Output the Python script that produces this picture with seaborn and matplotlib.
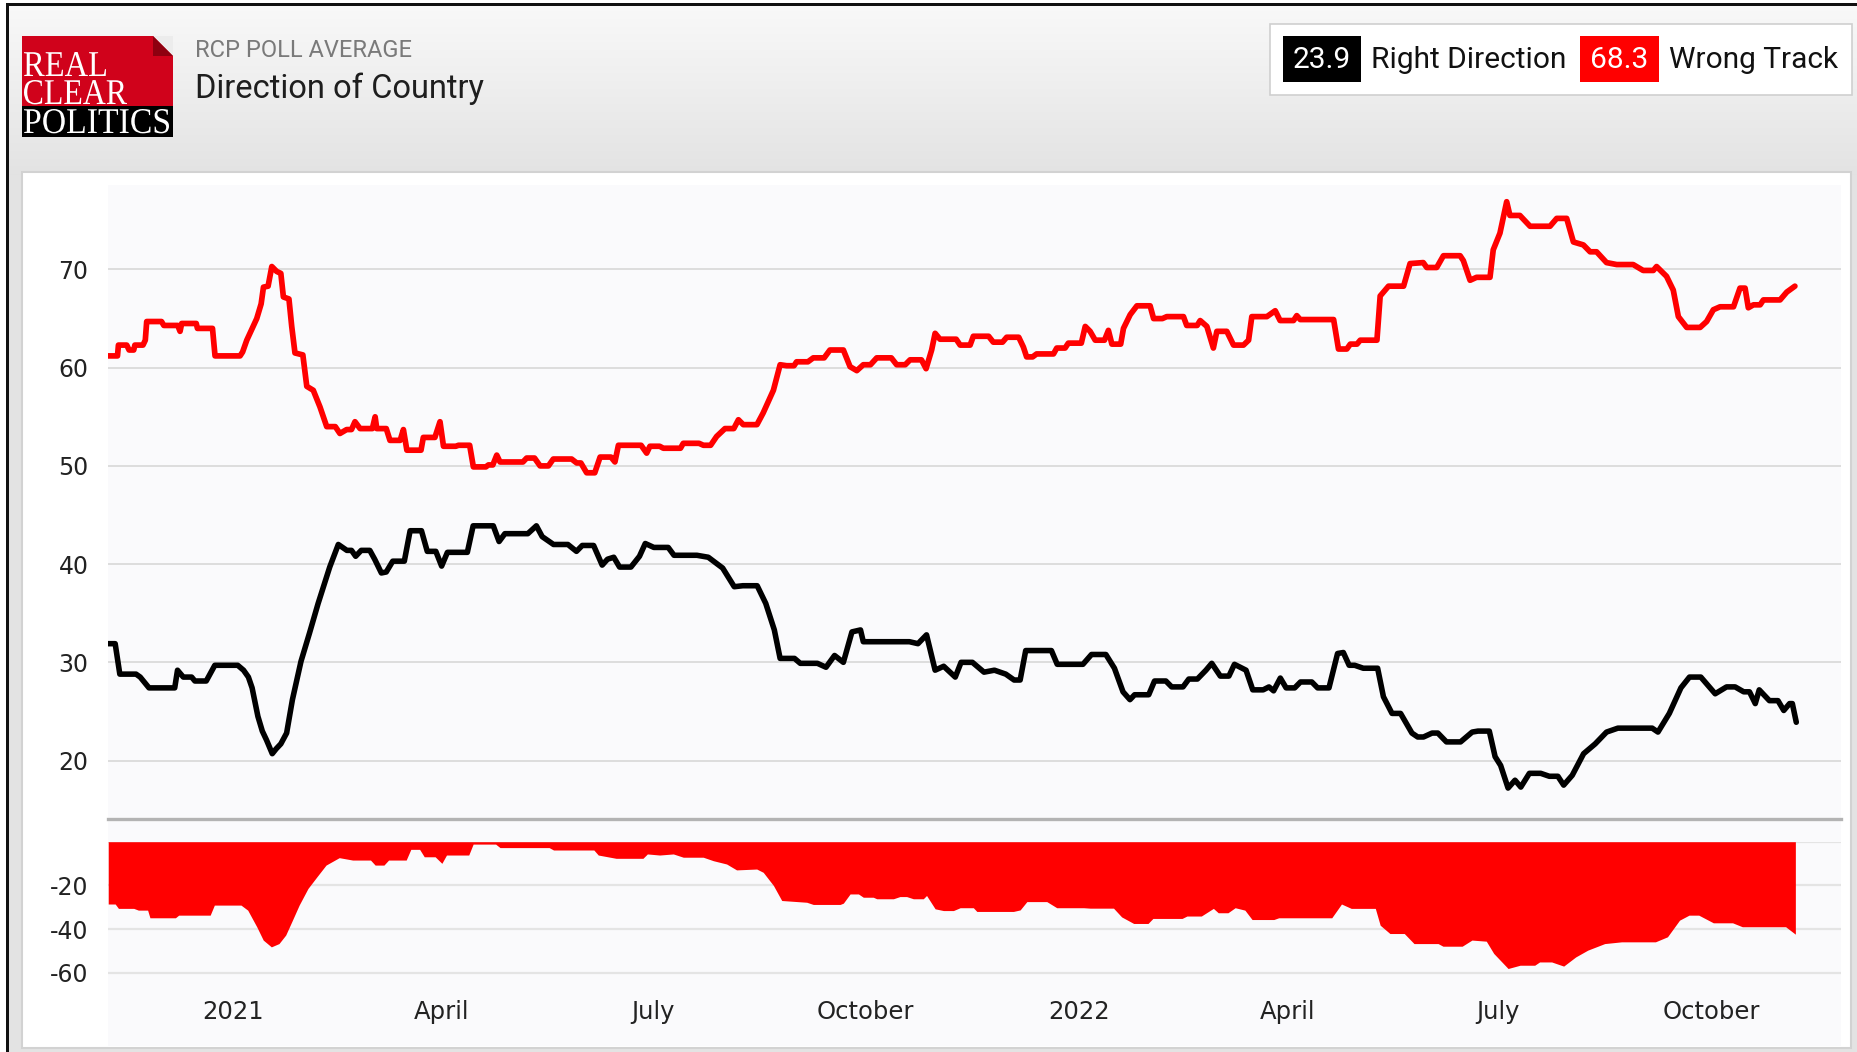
import numpy as np
import pandas as pd
import matplotlib
matplotlib.use("Agg")
import matplotlib.pyplot as plt
from matplotlib.patches import Rectangle, Polygon, PathPatch
from matplotlib.textpath import TextPath
from matplotlib.font_manager import FontProperties
from matplotlib.transforms import Affine2D
import seaborn as sns

# ---------------- data (day offsets from 2021-01-01, value) ----------------
BASE_DATE = "2021-01-01"

WRONG_TRACK = [(-54,61.2),(-50,61.2),(-49.6,62.3),(-46,62.3),(-45,61.8),(-43,61.8),(-42.5,62.3),(-39,62.3),(-38,62.8),(-37.4,64.7),(-31,64.7),(-30,64.3),(-24,64.3),(-23,63.7),(-22.3,64.5),(-16,64.5),(-15.5,64.0),(-9,64.0),(-7.9,61.2),(2.9,61.2),(4,61.6),(5.8,62.8),(10.1,65.0),(12,66.5),(13,68.2),(15,68.3),(16.6,70.3),(18.7,69.8),(20.5,69.6),(21.6,67.2),(24,67.0),(25.2,64.2),(26.6,61.5),(30,61.3),(31.7,58.1),(34.5,57.7),(37.4,56.0),(40.3,54.0),(44,54.0),(46,53.3),(48.9,53.7),(51,53.7),(52.5,54.5),(54.7,53.8),(60,53.8),(61.2,55.0),(61.9,53.8),(66,53.8),(67.6,52.6),(72,52.6),(73.4,53.7),(74.9,51.6),(81,51.6),(82,52.9),(87,52.9),(89.2,54.5),(90.7,52.0),(96,52.0),(97.2,52.1),(102,52.1),(103.6,49.9),(109,49.9),(110.1,50.1),(112,50.1),(113.7,51.1),(115.1,50.4),(125,50.4),(126.6,50.8),(130,50.8),(132.4,50.0),(136,50.0),(138.1,50.7),(146,50.7),(148.2,50.3),(150,50.3),(152.5,49.3),(156,49.3),(158.3,50.9),(163,50.9),(164.7,50.4),(166.2,52.1),(176,52.1),(178.4,51.3),(179.8,52.0),(184,52.0),(185.6,51.8),(193,51.8),(194.2,52.3),(201,52.3),(202.9,52.1),(206,52.1),(208.6,53.0),(212.2,53.8),(216,53.8),(218,54.7),(220.1,54.2),(226,54.2),(228.7,55.4),(233.1,57.7),(236,60.3),(238.8,60.2),(242,60.2),(243.1,60.6),(248,60.6),(250.3,61.0),(255,61.0),(257.5,61.8),(263.3,61.8),(266.2,60.1),(269.1,59.7),(271.9,60.3),(275,60.3),(277.7,61.0),(284,61.0),(286.3,60.3),(290,60.3),(292.1,60.8),(297,60.8),(299,59.9),(301.4,61.8),(302.9,63.5),(305,62.9),(312,62.9),(313.7,62.3),(318,62.3),(319.4,63.2),(326,63.2),(328,62.6),(332,62.6),(333.8,63.1),(339,63.1),(341,62.1),(342.4,61.1),(345,61.1),(346.7,61.4),(354,61.4),(355.4,62.0),(359,62.0),(360.4,62.5),(366,62.5),(367.7,64.2),(369.8,63.7),(372,62.8),(376,62.8),(377.7,63.8),(379.2,62.4),(383,62.4),(384.2,64.0),(387.1,65.4),(390,66.3),(395.7,66.3),(397.2,65.0),(401,65.0),(402.9,65.2),(410.1,65.2),(411.5,64.3),(416,64.3),(417.3,64.8),(420.2,64.2),(423,62.0),(424.5,63.7),(428.8,63.7),(431.7,62.3),(436,62.3),(438.2,62.8),(439.6,65.2),(446.1,65.2),(449.7,65.8),(451.8,64.8),(457.6,64.8),(459,65.3),(460.5,64.9),(474.9,64.9),(477,61.9),(480.6,61.9),(482.1,62.4),(485,62.4),(486.4,62.8),(493.6,62.8),(495,67.3),(498.6,68.3),(505.1,68.3),(507.9,70.6),(513.6,70.7),(515.1,70.2),(519.4,70.2),(522.3,71.4),(529.5,71.4),(530.9,70.9),(533.8,68.9),(536.6,69.2),(542.4,69.2),(543.8,72.0),(546.7,73.7),(549.6,76.9),(551,75.5),(555.3,75.5),(559.7,74.4),(568.3,74.4),(571.2,75.2),(575.5,75.2),(578.4,72.8),(582.7,72.5),(585.6,71.8),(588.4,71.8),(592.7,70.7),(597.1,70.5),(604.2,70.5),(608.5,69.9),(612.9,69.9),(614.3,70.3),(618.6,69.3),(621.5,67.9),(623.7,65.2),(627.3,64.1),(633.1,64.1),(635.9,64.7),(638.8,65.9),(641.7,66.2),(647.5,66.2),(650.3,68.1),(652.5,68.1),(653.9,66.1),(656.1,66.4),(659,66.4),(660.4,66.9),(667.6,66.9),(670.5,67.7),(674,68.3)]

RIGHT_DIRECTION = [(-54,31.9),(-51,31.9),(-49,28.8),(-42,28.8),(-40.2,28.5),(-36.4,27.4),(-25.3,27.4),(-24.1,29.2),(-21.6,28.5),(-18,28.5),(-16.6,28.1),(-11.7,28.1),(-8,29.7),(1.9,29.7),(4.4,29.2),(6.5,28.5),(8.1,27.4),(10.6,24.5),(12.5,23.0),(14.3,22.1),(16.8,20.7),(18.5,21.2),(20.5,21.7),(23,22.8),(25.5,26.2),(29.2,30.1),(32.9,33.0),(36.6,36.0),(41.6,39.7),(45.3,42.0),(49,41.4),(51,41.4),(52.8,40.8),(55.2,41.4),(58.9,41.4),(61,40.5),(63.9,39.1),(66,39.2),(68.8,40.3),(73.8,40.3),(76.3,43.4),(81.2,43.4),(83.7,41.3),(87.4,41.3),(89.9,39.8),(92.4,41.2),(101,41.2),(103.5,43.9),(112.2,43.9),(114.7,42.3),(117.2,43.1),(127.1,43.1),(130.8,43.9),(133.3,42.8),(138.2,42.0),(144.4,42.0),(148.1,41.3),(150.6,41.9),(155.5,41.9),(159.2,39.9),(161.5,40.5),(164.2,40.7),(166.7,39.7),(171.6,39.7),(175.3,40.8),(177.8,42.1),(181.5,41.7),(187.7,41.7),(190.2,40.9),(200.1,40.9),(205,40.7),(211.2,39.6),(216.2,37.7),(219.9,37.8),(226.1,37.8),(229.8,36.0),(233.5,33.3),(236,30.4),(242.2,30.4),(244.7,29.9),(252.1,29.9),(255.8,29.5),(259.5,30.7),(263.3,30.0),(267,33.1),(270.7,33.3),(271.9,32.1),(291.8,32.1),(295.5,31.9),(299.2,32.8),(302.9,29.2),(306.6,29.6),(311.6,28.5),(314.1,30.0),(319,30.0),(324,29.0),(328.5,29.2),(331,29.0),(333.4,28.8),(337,28.2),(339.6,28.2),(342,31.2),(353.1,31.2),(355.6,29.8),(366.7,29.8),(370.4,30.8),(376.6,30.8),(380.3,29.4),(384,27.0),(387,26.2),(389,26.7),(395.1,26.7),(397.6,28.1),(402.5,28.1),(405,27.5),(409.9,27.5),(412.4,28.3),(416.1,28.3),(419.8,29.2),(422.3,29.9),(426,28.6),(429.7,28.6),(432.1,29.8),(437.1,29.2),(440,27.2),(444.5,27.2),(447,27.5),(449,27.1),(451.9,28.4),(454.4,27.4),(458.1,27.4),(460.6,28.0),(465.5,28.0),(468,27.4),(472.9,27.4),(476.6,30.9),(479.1,31.0),(481.6,29.7),(484,29.7),(487.7,29.4),(493.9,29.4),(496.4,26.5),(500.1,24.8),(503.8,24.8),(508.7,22.8),(511.2,22.4),(513.7,22.4),(517.4,22.8),(519.9,22.8),(523.6,21.9),(529.7,21.9),(534.7,22.9),(537.2,23.0),(542.1,23.0),(544.6,20.4),(547,19.5),(550.2,17.2),(553.2,18.0),(555.7,17.3),(559.4,18.7),(564.3,18.7),(568,18.4),(571.7,18.4),(574.2,17.5),(577.9,18.5),(582.8,20.7),(587.8,21.7),(592.7,22.9),(597.6,23.3),(612.4,23.3),(614.9,22.9),(619.8,24.8),(624.8,27.4),(628.5,28.5),(633.4,28.5),(639.6,26.8),(644.5,27.5),(648.2,27.5),(651.9,27.0),(654.4,27.0),(656.9,25.8),(658.6,27.2),(663,26.1),(666.7,26.1),(669.2,25.1),(671.7,25.8),(672.9,25.8),(674.6,23.9)]

SPREAD = [(-54,-28.5),(-51,-28.5),(-49.6,-30.5),(-43,-30.5),(-41,-31.3),(-37,-31.3),(-36,-34.8),(-25,-34.8),(-23.6,-33.6),(-10,-33.6),(-8.2,-29.0),(3.3,-29.0),(6.2,-31.3),(10.1,-38.9),(12.9,-45.0),(16.4,-48.1),(19.7,-46.6),(22.6,-42.7),(25.5,-35.9),(28.4,-29.0),(32.2,-21.4),(36.1,-16.0),(40,-10.7),(45.7,-7.3),(51.5,-8.4),(59.2,-8.4),(61.2,-10.7),(65,-10.7),(67,-8.4),(74.6,-8.4),(76.6,-3.5),(80.4,-3.5),(82.4,-6.9),(87.1,-6.9),(90,-9.9),(92,-6.1),(101.6,-6.1),(103.5,-1.1),(113.2,-1.1),(115.1,-2.7),(136.3,-2.7),(138.2,-3.8),(155.6,-3.8),(157.5,-6.1),(165.2,-7.6),(176.8,-7.6),(178.7,-5.6),(184,-6.1),(189.9,-5.6),(194.2,-7.1),(202.8,-7.1),(207.2,-8.7),(212.9,-10.2),(217.2,-12.9),(225.9,-12.5),(228.7,-14.0),(233.1,-20.0),(236.7,-26.9),(247.5,-27.7),(250.3,-28.7),(261.9,-28.7),(263.3,-28.1),(266.2,-23.9),(269.8,-23.9),(271.9,-25.4),(276.2,-25.4),(277.7,-26.1),(284.9,-26.1),(287.7,-25.1),(290.6,-25.1),(293.5,-26.1),(297.8,-26.1),(299.2,-24.6),(302.9,-30.7),(306.5,-31.5),(310.8,-31.5),(313.7,-30.2),(319.4,-30.2),(320.9,-31.9),(336.7,-31.9),(339.6,-31.2),(342.5,-27.4),(351.1,-27.4),(355.4,-30.2),(367,-30.2),(369.8,-30.4),(379.9,-30.4),(383.4,-34.4),(388.6,-37.4),(394.8,-37.4),(396.9,-35.1),(409.5,-35.1),(411.6,-34.0),(417.8,-34.0),(423,-30.5),(425.1,-32.5),(429.3,-32.5),(432.4,-30.2),(436.6,-31.3),(439.7,-35.6),(449.1,-35.6),(451.2,-34.8),(474.1,-34.8),(478.3,-28.5),(482.5,-30.5),(492.9,-30.5),(495,-38.2),(499.2,-42.0),(505.4,-42.0),(509.6,-46.6),(520,-46.6),(522.1,-47.8),(530.4,-47.8),(534.6,-45.0),(540.8,-45.5),(544,-51.1),(550.2,-58.0),(555.4,-56.5),(561.7,-56.5),(563.8,-55.0),(569,-55.0),(574.2,-56.9),(579.4,-52.7),(584.6,-49.6),(591.9,-46.6),(599.2,-45.8),(613.8,-45.8),(619,-43.5),(624.2,-35.9),(628.3,-33.6),(632.5,-33.6),(638.8,-37.1),(647.1,-37.1),(651.3,-38.9),(670,-38.9),(674.2,-42.3)]

LATEST_RIGHT = "23.9"
LATEST_WRONG = "68.3"
TICK_DATES = ["2021-01-01", "2021-04-01", "2021-07-01", "2021-10-01",
              "2022-01-01", "2022-04-01", "2022-07-01", "2022-10-01"]
TICK_LABELS = ["2021", "April", "July", "October", "2022", "April", "July", "October"]
UPPER_TICKS = [20, 30, 40, 50, 60, 70]
LOWER_TICKS = [-60, -40, -20]


def to_frame(pairs):
    d = np.array([p[0] for p in pairs], dtype=float)
    v = np.array([p[1] for p in pairs], dtype=float)
    dates = pd.Timestamp(BASE_DATE) + pd.to_timedelta(d, unit="D")
    return pd.DataFrame({"date": dates, "value": v})


wt = to_frame(WRONG_TRACK)
rd = to_frame(RIGHT_DIRECTION)
sp = to_frame(SPREAD)

# ---------------- figure ----------------
sns.set_theme(style="white")
plt.rcParams["font.family"] = ["DejaVu Sans"]

W, H = 1857, 1052
fig = plt.figure(figsize=(W / 100, H / 100), dpi=100)
fig.patch.set_facecolor("white")

bg = fig.add_axes([0, 0, 1, 1], zorder=-10)
bg.set_xlim(0, W)
bg.set_ylim(H, 0)
bg.axis("off")

grad = np.linspace(0, 1, 256).reshape(-1, 1)
top_c = np.array([0.975, 0.975, 0.975])
bot_c = np.array([0.890, 0.890, 0.890])
img = top_c + (bot_c - top_c) * grad
img = np.repeat(img[:, None, :], 2, axis=1).reshape(256, 2, 3)
bg.imshow(img, extent=[9, W, 175, 6], aspect="auto", interpolation="bilinear", zorder=0)
bg.add_patch(Rectangle((9, 175), W - 9, H - 175, fc="#e3e3e3", ec="none", zorder=0))
bg.add_patch(Rectangle((6, 3), W - 6, 3, fc="#111111", ec="none", zorder=1))
bg.add_patch(Rectangle((6, 3), 3, H - 3, fc="#111111", ec="none", zorder=1))
bg.add_patch(Rectangle((22, 172), 1829, 876, fc="white", ec="#d2d2d2", lw=1.5, zorder=1))
bg.add_patch(Rectangle((108, 185), 1733, 861, fc="#fafafc", ec="none", zorder=2))

# logo
bg.add_patch(Rectangle((22, 36), 151, 70, fc="#d0021b", ec="none", zorder=3))
bg.add_patch(Rectangle((22, 106), 151, 31, fc="#000000", ec="none", zorder=3))
bg.add_patch(Polygon([(153, 36), (173, 36), (173, 56)], closed=True, fc="#ececec", ec="none", zorder=4))
bg.add_patch(Polygon([(153, 36), (173, 56), (153, 56)], closed=True, fc="#8e0010", ec="none", zorder=4))

serif = FontProperties(family=["Liberation Serif", "DejaVu Serif"])


def logo_word(word, x0, x1, ytop, ybase):
    tp = TextPath((0, 0), word, size=100, prop=serif)
    ext = tp.get_extents()
    sx = (x1 - x0) / ext.width
    sy = (ybase - ytop) / ext.y1
    tr = Affine2D().translate(-ext.x0, 0).scale(sx, -sy).translate(x0, ybase)
    path = tr.transform_path(tp)
    bg.add_patch(PathPatch(path, fc="white", ec="none", zorder=5))


logo_word("REAL", 24, 106, 52, 76)
logo_word("CLEAR", 24, 127, 80, 104)
logo_word("POLITICS", 24, 169, 109, 133)

# header texts
bg.text(195, 57, "RCP POLL AVERAGE", color="#7a7a7a", fontsize=17, family=["Roboto", "DejaVu Sans"],
        va="baseline", ha="left", zorder=5)
bg.text(195, 98, "Direction of Country", color="#1e1e1e", fontsize=23.5, family=["Roboto", "DejaVu Sans"],
        va="baseline", ha="left", zorder=5)

# legend box
bg.add_patch(Rectangle((1270, 24), 582, 71, fc="white", ec="#cfcfcf", lw=1.2, zorder=3))
bg.add_patch(Rectangle((1283, 36), 78, 46, fc="black", ec="none", zorder=4))
bg.add_patch(Rectangle((1580, 36), 79, 46, fc="#ff0000", ec="none", zorder=4))
lf = dict(family=["Roboto", "DejaVu Sans"], va="center", zorder=5)
bg.text(1322, 60, LATEST_RIGHT, color="white", ha="center", fontsize=21.5, **lf)
bg.text(1371, 60, "Right Direction", color="#111111", ha="left", fontsize=21.5, **lf)
bg.text(1619.5, 60, LATEST_WRONG, color="white", ha="center", fontsize=21.5, **lf)
bg.text(1669, 60, "Wrong Track", color="#111111", ha="left", fontsize=21.5, **lf)

# ---------------- data axes ----------------
def fx(px):
    return px / W


def fy(py):
    return 1 - py / H


left = fx(108)
width = fx(1841) - fx(108)
ax = fig.add_axes([left, fy(819), width, fy(185) - fy(819)])
ax2 = fig.add_axes([left, fy(986), width, fy(841.7) - fy(986)])

x0 = pd.Timestamp(BASE_DATE) + pd.Timedelta(days=-54.1)
x1 = pd.Timestamp(BASE_DATE) + pd.Timedelta(days=693.9)

for a in (ax, ax2):
    a.set_facecolor("none")
    a.set_xlim(x0, x1)
    for s in a.spines.values():
        s.set_visible(False)
    a.tick_params(axis="both", length=0)

sns.lineplot(data=wt, x="date", y="value", ax=ax, color="#ff0000", lw=4.1,
             estimator=None, sort=False, zorder=4)
sns.lineplot(data=rd, x="date", y="value", ax=ax, color="#000000", lw=4.0,
             estimator=None, sort=False, zorder=4)
for ln in ax.lines:
    ln.set_solid_joinstyle("round")
    ln.set_solid_capstyle("round")
ax.set_ylim(14.05, 78.6)
ax.set_yticks(UPPER_TICKS)
ax.set_yticklabels([str(t) for t in UPPER_TICKS])
ax.grid(axis="y", color="#dadada", lw=1.3)
ax.grid(axis="x", visible=False)
ax.set_xticks([])
ax.set_xlabel("")
ax.set_ylabel("")
ax.spines["bottom"].set_visible(True)
ax.spines["bottom"].set_color("#b3b3b3")
ax.spines["bottom"].set_linewidth(2.4)
ax.tick_params(axis="y", labelsize=17, labelcolor="#222222", pad=14)

for g in [0] + LOWER_TICKS:
    ax2.axhline(g, color="#e4e4e4", lw=1.6, zorder=1)
ax2.fill_between(sp["date"], sp["value"], 0, color="#ff0000", lw=0, zorder=3)
ax2.set_ylim(-66, 0)
ax2.set_yticks(LOWER_TICKS)
ax2.set_yticklabels([str(t) for t in LOWER_TICKS])
ax2.grid(False)
ax2.set_xticks(pd.to_datetime(TICK_DATES))
ax2.set_xticklabels(TICK_LABELS)
ax2.tick_params(axis="y", labelsize=17, labelcolor="#222222", pad=14)
ax2.tick_params(axis="x", labelsize=17.5, labelcolor="#222222", pad=10)
ax2.set_xlabel("")
ax2.set_ylabel("")

fig.savefig("out.png", dpi=100)
